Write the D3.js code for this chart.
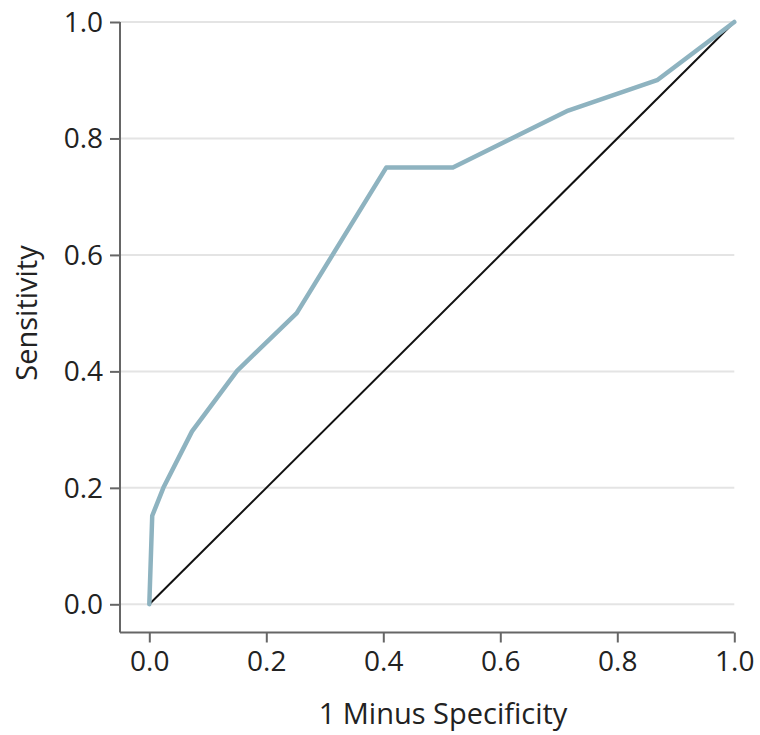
<!DOCTYPE html>
<html>
<head>
<meta charset="utf-8">
<script src="https://cdn.jsdelivr.net/npm/d3@7"></script>
<style>
  body { margin: 0; background: #fff; }
  text { font-family: "Open Sans", "Noto Sans", sans-serif; fill: #222; }
</style>
</head>
<body>
<div id="chart"></div>
<script>
// ROC curve data
var fpr = [0, 0.005, 0.024, 0.073, 0.15, 0.252, 0.405, 0.519, 0.716, 0.868, 1.0];
var tpr = [0, 0.152, 0.2, 0.297, 0.401, 0.5, 0.75, 0.75, 0.848, 0.9, 1.0];
var tickValues = [0, 0.2, 0.4, 0.6, 0.8, 1.0];

var W = 760, H = 735;
var margin = {top: 22, left: 149.3, right: 25.7, bottom: 130.7};
var axisLeftX = 120, axisBottomY = 632.5;

var svg = d3.select("#chart").append("svg")
    .attr("width", W)
    .attr("height", H);

var x = d3.scaleLinear().domain([0, 1]).range([margin.left, W - margin.right]);
var y = d3.scaleLinear().domain([0, 1]).range([H - margin.bottom, margin.top]);

// gridlines
svg.append("g").selectAll("line")
    .data(tickValues)
    .enter().append("line")
    .attr("x1", axisLeftX)
    .attr("x2", x(1))
    .attr("y1", function(d){ return y(d); })
    .attr("y2", function(d){ return y(d); })
    .attr("stroke", "#e4e4e4")
    .attr("stroke-width", 2);

// left axis
var yAxis = d3.axisLeft(y)
    .tickValues(tickValues)
    .tickFormat(d3.format(".1f"))
    .tickSize(10)
    .tickPadding(7)
    .tickSizeOuter(0);
var gy = svg.append("g")
    .attr("transform", "translate(" + axisLeftX + ",0)")
    .call(yAxis);
gy.select(".domain").remove();
gy.append("line")
    .attr("x1", 0).attr("x2", 0)
    .attr("y1", y(1)).attr("y2", axisBottomY)
    .attr("stroke", "#666").attr("stroke-width", 2);

// bottom axis
var xAxis = d3.axisBottom(x)
    .tickValues(tickValues)
    .tickFormat(d3.format(".1f"))
    .tickSize(10)
    .tickPadding(8)
    .tickSizeOuter(0);
var gx = svg.append("g")
    .attr("transform", "translate(0," + axisBottomY + ")")
    .call(xAxis);
gx.select(".domain").remove();
gx.append("line")
    .attr("x1", axisLeftX).attr("x2", x(1))
    .attr("y1", 0).attr("y2", 0)
    .attr("stroke", "#666").attr("stroke-width", 2);

svg.selectAll(".tick line").attr("stroke", "#666").attr("stroke-width", 2);
svg.selectAll(".tick text")
    .style("font-size", "28px")
    .style("font-family", "'Open Sans', sans-serif")
    .attr("fill", "#222");
gy.selectAll(".tick text").attr("dy", "0.34em");
gx.selectAll(".tick text").attr("dy", "0.72em");

// reference diagonal
svg.append("line")
    .attr("x1", x(0)).attr("y1", y(0))
    .attr("x2", x(1)).attr("y2", y(1))
    .attr("stroke", "#111")
    .attr("stroke-width", 2);

// ROC curve
var pts = fpr.map(function(d, i){ return [d, tpr[i]]; });
var line = d3.line()
    .x(function(d){ return x(d[0]); })
    .y(function(d){ return y(d[1]); });
svg.append("path")
    .datum(pts)
    .attr("d", line)
    .attr("fill", "none")
    .attr("stroke", "#8eb3c0")
    .attr("stroke-width", 4.5)
    .attr("stroke-linejoin", "round")
    .attr("stroke-linecap", "round");

// axis titles
svg.append("text")
    .attr("x", 443)
    .attr("y", 724)
    .attr("text-anchor", "middle")
    .style("font-size", "29px")
    .text("1 Minus Specificity");

svg.append("text")
    .attr("transform", "translate(37," + 313 + ") rotate(-90)")
    .attr("text-anchor", "middle")
    .style("font-size", "29px")
    .text("Sensitivity");
</script>
</body>
</html>
